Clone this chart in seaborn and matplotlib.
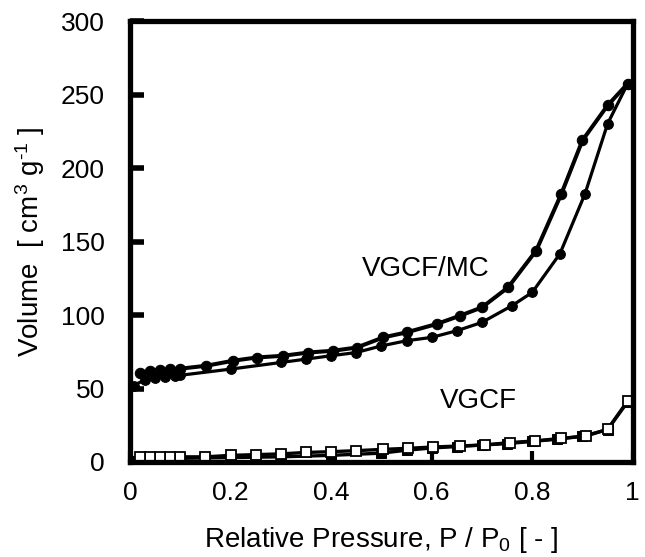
import matplotlib
matplotlib.use("Agg")
import matplotlib.pyplot as plt
import seaborn as sns
import numpy as np

# VGCF/MC adsorption branch
mc_ads_x = [0.007, 0.03, 0.05, 0.07, 0.09, 0.10, 0.20, 0.30, 0.35, 0.40, 0.45, 0.50, 0.55, 0.60, 0.65, 0.70, 0.76, 0.80, 0.855, 0.905, 0.95, 0.99]
mc_ads_y = [52.0, 56.0, 57.0, 58.0, 58.5, 59.0, 63.2, 67.7, 70.0, 72.3, 74.5, 79.0, 82.5, 84.8, 89.3, 95.0, 106.4, 115.4, 141.6, 182.5, 230.2, 257.5]
# VGCF/MC desorption branch
mc_des_x = [0.99, 0.95, 0.90, 0.858, 0.808, 0.752, 0.70, 0.656, 0.61, 0.55, 0.504, 0.451, 0.404, 0.355, 0.305, 0.252, 0.205, 0.152, 0.10, 0.08, 0.06, 0.04, 0.02]
mc_des_y = [257.5, 242.7, 218.9, 182.5, 143.9, 118.8, 105.2, 99.5, 93.9, 88.2, 84.8, 77.9, 75.7, 74.5, 72.3, 71.1, 68.9, 65.5, 63.5, 63.0, 62.5, 62.0, 60.5]
# VGCF adsorption branch
vg_ads_x = [0.01, 0.03, 0.05, 0.07, 0.09, 0.10, 0.20, 0.30, 0.40, 0.50, 0.55, 0.60, 0.65, 0.70, 0.75, 0.80, 0.85, 0.90, 0.95, 0.99]
vg_ads_y = [1.0, 1.5, 2.0, 2.0, 2.5, 2.5, 3.0, 3.5, 4.5, 6.0, 8.0, 9.5, 10.5, 11.5, 12.5, 14.0, 15.5, 17.5, 22.0, 41.0]
# VGCF desorption branch
vg_des_x = [0.99, 0.95, 0.908, 0.858, 0.805, 0.755, 0.706, 0.656, 0.603, 0.553, 0.504, 0.45, 0.40, 0.35, 0.30, 0.25, 0.20, 0.15, 0.10, 0.08, 0.06, 0.04, 0.02]
vg_des_y = [41.6, 22.3, 17.7, 16.1, 14.3, 13.2, 11.6, 10.9, 10.2, 9.3, 8.6, 7.7, 7.0, 6.5, 5.5, 5.0, 4.5, 3.5, 3.5, 3.5, 3.5, 3.5, 3.5]

x_ticks = [0, 0.2, 0.4, 0.6, 0.8, 1]
x_ticklabels = ["0", "0.2", "0.4", "0.6", "0.8", "1"]
y_ticks = [0, 50, 100, 150, 200, 250, 300]

sns.set_theme(style="white")
plt.rcParams['font.family'] = ['Liberation Sans', 'DejaVu Sans']
plt.rcParams['mathtext.fontset'] = 'custom'
plt.rcParams['mathtext.rm'] = 'Liberation Sans'
plt.rcParams['mathtext.it'] = 'Liberation Sans'
plt.rcParams['text.color'] = 'black'
plt.rcParams['axes.labelcolor'] = 'black'
plt.rcParams['xtick.color'] = 'black'
plt.rcParams['ytick.color'] = 'black'

fig = plt.figure(figsize=(6.45, 5.57), dpi=100)
ax = fig.add_axes([0.2016, 0.1706, 0.7794, 0.7914])

sns.lineplot(x=vg_ads_x, y=vg_ads_y, sort=False, ax=ax, color="black", lw=2.4,
             marker="s", markersize=6.5, markeredgecolor="black", estimator=None)
sns.lineplot(x=vg_des_x, y=vg_des_y, sort=False, ax=ax, color="black", lw=2.4,
             marker="s", markersize=6.5, markerfacecolor="white", markeredgecolor="black",
             markeredgewidth=1.3, estimator=None)
sns.lineplot(x=mc_ads_x, y=mc_ads_y, sort=False, ax=ax, color="black", lw=2.3,
             marker="o", markersize=7, markeredgecolor="black", estimator=None)
sns.lineplot(x=mc_des_x, y=mc_des_y, sort=False, ax=ax, color="black", lw=2.9,
             marker="o", markersize=7.5, markeredgecolor="black", estimator=None)

ax.set_xlim(0, 1)
ax.set_ylim(0, 300)
ax.set_xticks(x_ticks)
ax.set_xticklabels(x_ticklabels)
ax.set_yticks(y_ticks)
ax.tick_params(bottom=True, left=True, top=False, right=False)
ax.tick_params(axis="y", direction="in", length=10, width=4, labelsize=19, pad=18)
ax.tick_params(axis="x", direction="in", length=8, width=3, labelsize=19, pad=14)
for s in ax.spines.values():
    s.set_linewidth(3.8)
    s.set_color("black")

ax.set_xlabel("Relative Pressure, P / P$_0$ [ - ]", fontsize=20, labelpad=14)
ax.set_ylabel("Volume  [ cm$^3$ g$^{\\text{-}1}$ ]", fontsize=20, labelpad=10)

ax.text(0.588, 131, "VGCF/MC", fontsize=20, ha="center", va="center")
ax.text(0.692, 41.6, "VGCF", fontsize=20, ha="center", va="center")

fig.savefig("out.png", dpi=100)
